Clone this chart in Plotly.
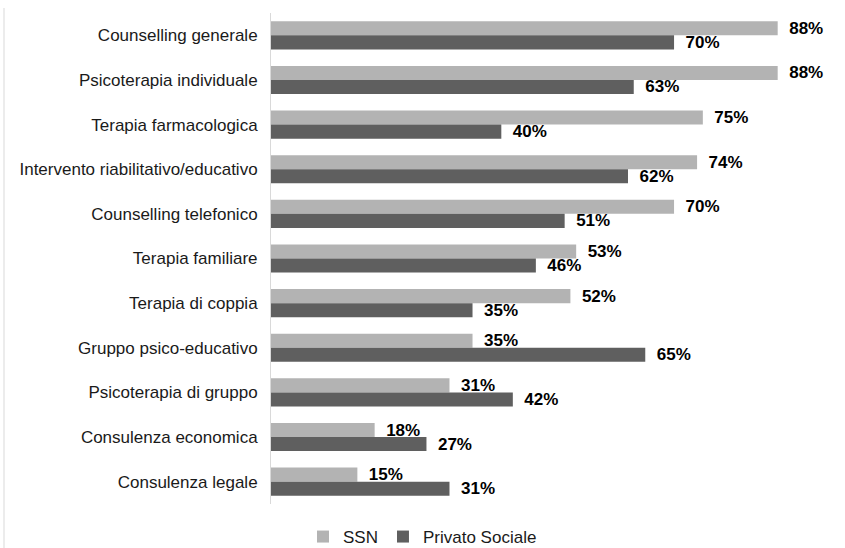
import plotly.graph_objects as go

categories = ["Counselling generale", "Psicoterapia individuale", "Terapia farmacologica",
              "Intervento riabilitativo/educativo", "Counselling telefonico", "Terapia familiare",
              "Terapia di coppia", "Gruppo psico-educativo", "Psicoterapia di gruppo",
              "Consulenza economica", "Consulenza legale"]
ssn = [88, 88, 75, 74, 70, 53, 52, 35, 31, 18, 15]
privato = [70, 63, 40, 62, 51, 46, 35, 65, 42, 27, 31]

W, H = 845, 548
L, R, T, B = 271, 27, 13, 44
FONT = "Liberation Sans, Arial, sans-serif"

fig = go.Figure()
for name, vals, col in [("SSN", ssn, "#b3b3b3"), ("Privato Sociale", privato, "#5f5f5f")]:
    fig.add_trace(go.Bar(
        y=categories, x=vals, name=name, orientation="h",
        marker=dict(color=col, line=dict(width=0)),
        text=[f"\u2002{v}%" for v in vals], textposition="outside",
        textfont=dict(family=FONT, size=17, color="#000000", weight="bold"),
        constraintext="none", cliponaxis=False,
    ))

pw = W - L - R
ph = H - T - B
fig.update_layout(
    width=W, height=H,
    margin=dict(l=L, r=R, t=T, b=B, autoexpand=False),
    barmode="group", bargap=0.37, bargroupgap=0,
    plot_bgcolor="white", paper_bgcolor="white",
    font=dict(family=FONT, size=17, color="#1a1a1a"),
    xaxis=dict(range=[0, 95], visible=False, showgrid=False, zeroline=False),
    yaxis=dict(autorange="reversed", showline=True, linecolor="#d9d9d9", linewidth=1,
               ticks="", ticklabelstandoff=9, showgrid=False,
               tickfont=dict(size=17, color="#1a1a1a")),
    legend=dict(orientation="h", x=0.5, xref="container", xanchor="center",
                y=-(537 - (H - B)) / ph, yanchor="middle",
                font=dict(size=17, color="#1a1a1a"), itemwidth=30, traceorder="normal"),
    shapes=[dict(type="line", xref="paper", yref="paper",
                 x0=(4 - L) / pw, x1=(4 - L) / pw,
                 y0=1 + (T - 8) / ph, y1=-B / ph,
                 line=dict(color="#d9d9d9", width=1))],
)
fig.write_html("out.html", config={"displayModeBar": False},
               post_script="document.body.style.margin='0';document.body.style.overflow='hidden';")
